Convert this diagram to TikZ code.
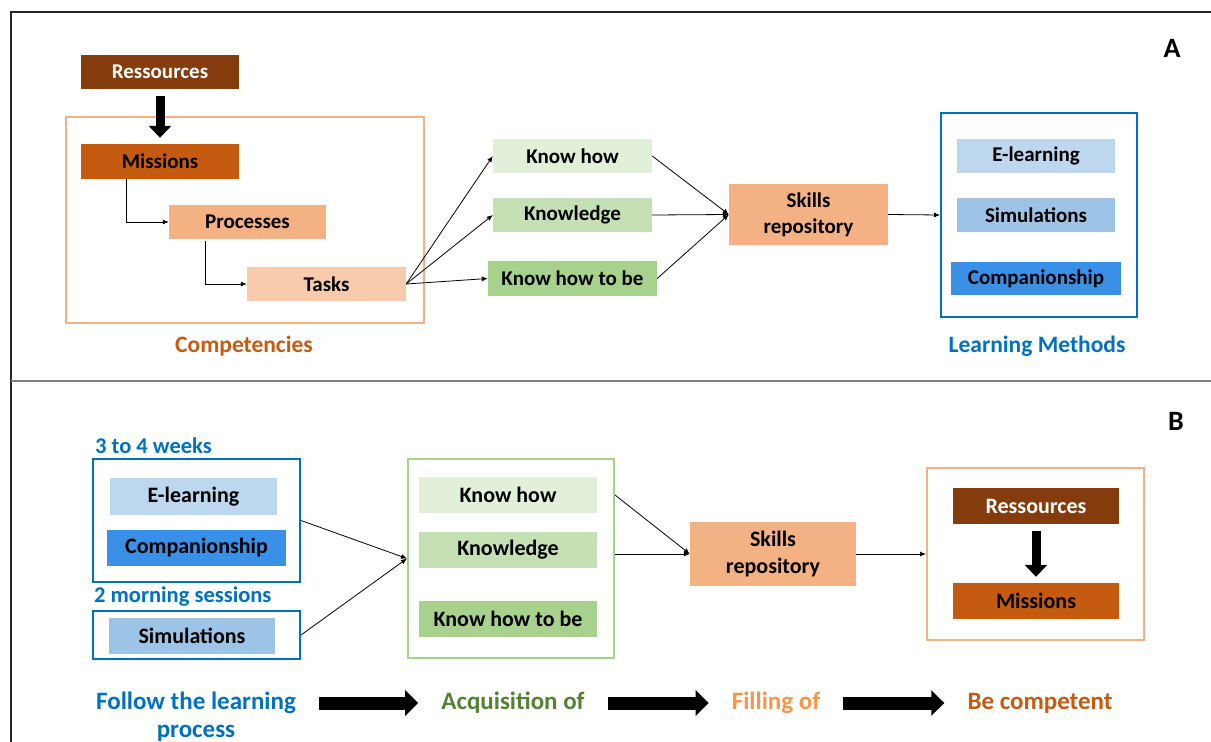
\documentclass[tikz,border=0pt]{standalone}
\usepackage{fontspec}
\setmainfont{Carlito}
\usepackage{tikz}
\usetikzlibrary{arrows.meta, positioning}

\definecolor{resbrown}{HTML}{843C0C}
\definecolor{misorange}{HTML}{C55A11}
\definecolor{procorange}{HTML}{F4B183}
\definecolor{taskorange}{HTML}{F8CBAD}
\definecolor{khgreen}{HTML}{E2F0D9}
\definecolor{kngreen}{HTML}{C5E0B4}
\definecolor{khbgreen}{HTML}{A9D18E}
\definecolor{elblue}{HTML}{BDD7EE}
\definecolor{simblue}{HTML}{9DC3E6}
\definecolor{compblue}{HTML}{3A8FE6}
\definecolor{labelblue}{HTML}{0070C0}
\definecolor{labelgreen}{HTML}{548235}
\definecolor{fillorange}{HTML}{F79646}

\begin{document}
\begin{tikzpicture}[x=1pt, y=-1pt, >={Latex[length=6pt,width=5pt]},
    box/.style={inner sep=0pt, align=center, font=\bfseries\fontsize{21}{26}\selectfont},
    boxb/.style={inner sep=0pt, align=center, font=\bfseries\fontsize{22}{27}\selectfont},
    frame/.style={draw, line width=2pt, inner sep=0pt},
    link/.style={->, line width=0.8pt},
    fat/.style={-{Triangle[length=12pt,width=22pt]}, line width=9pt},
    bigarrow/.style={-{Triangle[length=13pt,width=25pt]}, line width=13pt, shorten <=23pt, shorten >=23pt},
    toptag/.style={inner sep=0pt, font=\bfseries\fontsize{23.5}{28}\selectfont},
    bottag/.style={inner sep=0pt, font=\bfseries\fontsize{25}{30}\selectfont},
    note/.style={inner sep=0pt, text=labelblue, font=\bfseries\fontsize{22.5}{27}\selectfont}]
    \useasboundingbox (0,0) rectangle (1211,742);

    % outer frame and divider
    \draw[line width=2pt, black!85] (1211,12) -- (11,12) -- (11,742);
    \draw[line width=2pt, gray] (11,381) -- (1211,381);

    % part A
    \node[font=\bfseries\fontsize{28}{32}\selectfont] (tagA) at (1172,48) {A};

    \node[frame, draw=procorange, minimum width=358pt, minimum height=206pt] (comp) at (245,220) {};
    \node[toptag, text=misorange] (complabel) at (244,346) {Competencies};
    \node[box, fill=resbrown, text=white, minimum width=158pt, minimum height=34pt] (res) at (160,72) {Ressources};
    \node[box, fill=misorange, minimum width=158pt, minimum height=35pt] (mis) at (160,161.5) {Missions};
    \node[box, fill=procorange, minimum width=157pt, minimum height=34pt] (proc) at (247.5,222) {Processes};
    \node[box, fill=taskorange, minimum width=159pt, minimum height=34pt] (task) at (326.5,284) {Tasks};

    \draw[fat, shorten <=7pt, shorten >=6pt] (res.south) -- (mis.north);
    \draw[link] ([xshift=-34pt]mis.south) |- (proc.west);
    \draw[link] ([xshift=-42pt, yshift=-2pt]proc.south) |- (task.west);

    \node[box, fill=khgreen, minimum width=159pt, minimum height=34pt] (kh) at (572.5,156) {Know how};
    \node[box, fill=kngreen, minimum width=159pt, minimum height=34pt] (kn) at (572.5,215) {Knowledge};
    \node[box, fill=khbgreen, minimum width=169pt, minimum height=35pt] (khb) at (572.5,278.5) {Know how to be};
    \node[box, fill=procorange, minimum width=159pt, minimum height=61pt] (skills) at (808.5,214.5) {Skills\\repository};

    \foreach \n in {kh, kn, khb}
        \draw[link] (task.east) -- (\n.west);
    \foreach \n in {kh, kn, khb}
        \draw[link] (\n.east) -- (skills.west);

    \node[frame, draw=labelblue, minimum width=196pt, minimum height=204pt] (learn) at (1039,215) {};
    \node[toptag, text=labelblue] (learnlabel) at (1037,346) {Learning Methods};
    \node[box, fill=elblue, minimum width=158pt, minimum height=34pt] (elearn) at (1036,156) {E-learning};
    \node[box, fill=simblue, minimum width=158pt, minimum height=34pt] (simu) at (1036,215) {Simulations};
    \node[box, fill=compblue, minimum width=170pt, minimum height=33pt] (compan) at (1036,278.5) {Companionship};
    \draw[link] (skills.east) -- (learn.west);

    % part B
    \node[font=\bfseries\fontsize{28}{32}\selectfont] (tagB) at (1176,421) {B};

    \node[note, anchor=west] (weeks) at (95,446) {3 to 4 weeks};
    \node[frame, draw=labelblue, minimum width=207pt, minimum height=123pt] (boxone) at (196.5,520.5) {};
    \node[boxb, fill=elblue, minimum width=167pt, minimum height=37pt] (elearnB) at (193.5,496.5) {E-learning};
    \node[boxb, fill=compblue, minimum width=179pt, minimum height=36pt] (companB) at (196.5,548) {Companionship};
    \node[note, anchor=west] (morning) at (94,597) {2 morning sessions};
    \node[frame, draw=labelblue, minimum width=207pt, minimum height=48pt] (boxtwo) at (196.5,635) {};
    \node[boxb, fill=simblue, minimum width=166pt, minimum height=36pt] (simuB) at (192,636) {Simulations};

    \node[frame, draw=khbgreen, minimum width=206pt, minimum height=199pt] (greenbox) at (511,558.5) {};
    \node[boxb, fill=khgreen, minimum width=178pt, minimum height=36pt] (khB) at (508,495) {Know how};
    \node[boxb, fill=kngreen, minimum width=178pt, minimum height=36pt] (knB) at (508,550) {Knowledge};
    \node[boxb, fill=khbgreen, minimum width=178pt, minimum height=36pt] (khbB) at (508,619) {Know how to be};

    \node[boxb, fill=procorange, minimum width=166pt, minimum height=64pt] (skillsB) at (773,554) {Skills\\repository};

    \node[frame, draw=procorange, minimum width=217pt, minimum height=172pt] (orgbox) at (1035.5,554) {};
    \node[boxb, fill=resbrown, text=white, minimum width=166pt, minimum height=36pt] (resB) at (1036,506) {Ressources};
    \node[boxb, fill=misorange, minimum width=166pt, minimum height=36pt] (misB) at (1036,601) {Missions};
    \draw[fat, shorten <=7pt, shorten >=6pt] (resB.south) -- (misB.north);

    \draw[link] (boxone.east) -- (greenbox.west);
    \draw[link] (boxtwo.east) -- (greenbox.west);
    \draw[link] (greenbox.east |- khB) -- (skillsB.west);
    \draw[link] (greenbox.east |- skillsB) -- (skillsB.west);
    \draw[link] (skillsB.east) -- (orgbox.west);

    % bottom line of steps
    \node[bottag, text=labelblue] (follow) at (196,703) {Follow the learning};
    \node[bottag, text=labelblue] (followb) at (196,733) {process};
    \node[bottag, text=labelgreen] (acq) at (513,703) {Acquisition of};
    \node[bottag, text=fillorange] (filling) at (776,703) {Filling of};
    \node[bottag, text=misorange] (becomp) at (1040,703) {Be competent};

    \foreach \a/\b in {follow/acq, acq/filling, filling/becomp}
        \draw[bigarrow] (\a.east) -- (\b.west);
\end{tikzpicture}
\end{document}
